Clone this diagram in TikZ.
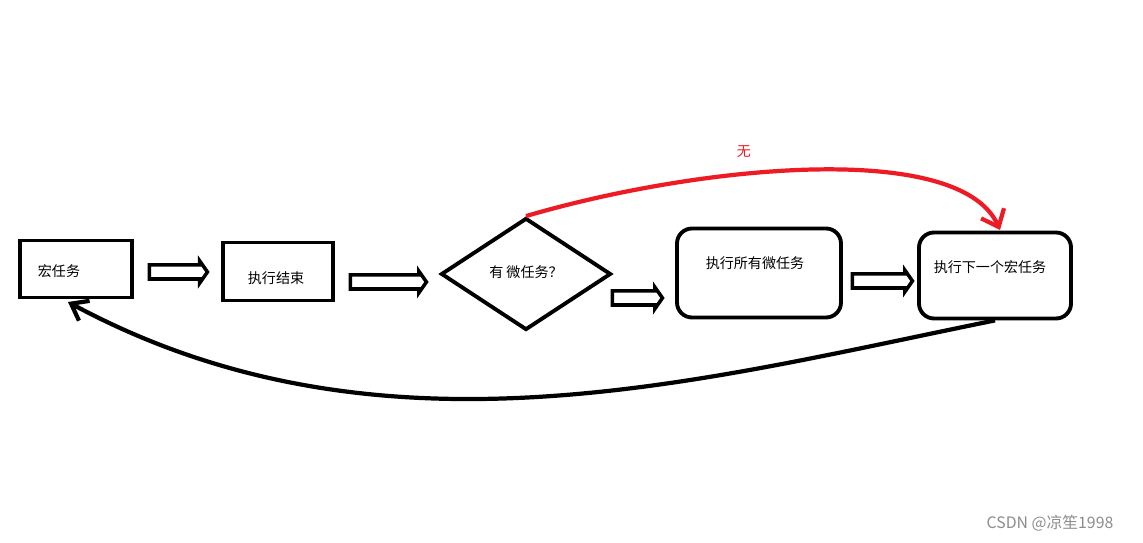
\documentclass[tikz,border=0pt]{standalone}
\usepackage{fontspec}
\setmainfont{Noto Sans CJK SC}
\usetikzlibrary{shapes.geometric,shapes.arrows,arrows.meta}
\definecolor{myred}{RGB}{237,28,36}
\begin{document}
\begin{tikzpicture}[x=0.02cm,y=-0.02cm,
  box/.style={draw,line width=2.2pt,minimum width=#1*0.02cm},
  harrow/.style={single arrow,draw,line width=2pt,fill=white,minimum height=#1*0.02cm,minimum width=0.44cm,single arrow head extend=0.06cm,single arrow tip angle=110,inner sep=2pt,shape border rotate=0},
  lbl/.style={font=\fontsize{8}{10}\selectfont},
  curve/.style={line width=2.4pt}]
\useasboundingbox (0,0) rectangle (1143,543);
\node[box=112,minimum height=1.14cm] (m1) at (76,269) {};
\node[lbl] (t1) at (59,271) {宏任务};
\node[box=110,minimum height=1.16cm] (e) at (278,271.5) {};
\node[lbl] (t2) at (276,278) {执行结束};
\node[draw,line width=2.2pt,diamond,minimum width=3.4cm,minimum height=2.24cm,inner sep=0pt] (d) at (526,274) {};
\node[lbl] (t3) at (526,272) {有 微任务？};
\node[box=164,minimum height=1.78cm,rounded corners=0.3cm] (all) at (759,273) {};
\node[lbl] (t4) at (755,263) {执行所有微任务};
\node[box=152,minimum height=1.72cm,rounded corners=0.3cm] (next) at (995,275.5) {};
\node[lbl] (t5) at (990,267) {执行下一个宏任务};
\node[harrow=58] (a1) at (176,272) {};
\node[harrow=76] (a2) at (386,282) {};
\node[harrow=50] (a3) at (635,298) {};
\node[harrow=60] (a4) at (880,281) {};
\draw[curve,myred,-{Straight Barb[length=0.3cm,width=0.5cm,line width=2.4pt]}] (d.north) .. controls (700,165) and (960,140) .. (1000,230);
\node[lbl,text=myred] (no) at (744,152) {无};
\draw[curve,-{Straight Barb[length=0.3cm,width=0.45cm,line width=2.4pt]}] (next.south) .. controls (700,380) and (380,470) .. (68,302);
\node[font=\fontsize{9}{11}\selectfont,text=black!45] (wm) at (1050,523) {CSDN @凉笙1998};
\end{tikzpicture}
\end{document}
